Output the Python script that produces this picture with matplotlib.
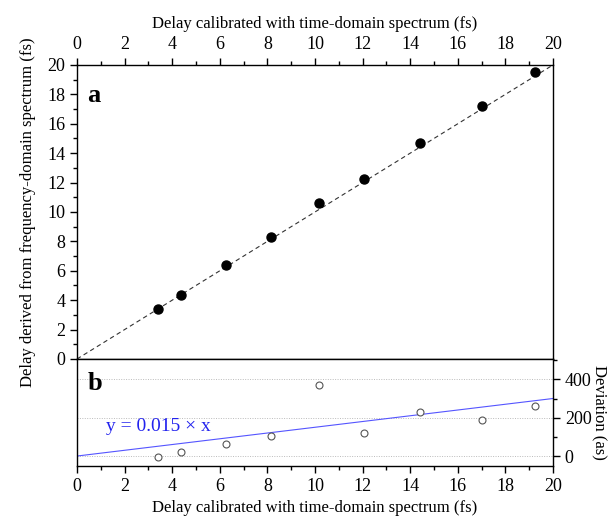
import matplotlib.pyplot as plt
from matplotlib.ticker import MultipleLocator

plt.rcParams['font.family'] = ['Liberation Serif', 'DejaVu Serif']
plt.rcParams['font.size'] = 12

# delay from time-domain spectrum (fs)
t_delay = [3.40, 4.35, 6.28, 8.15, 10.18, 12.06, 14.42, 17.00, 19.26]
# delay from frequency-domain spectrum (fs)
f_delay = [3.38, 4.33, 6.37, 8.28, 10.59, 12.22, 14.67, 17.23, 19.54]
# deviation (as)
deviation = [-3, 20, 62, 103, 368, 122, 229, 190, 260]
dev_err = [14, 14, 14, 14, 14, 14, 14, 14, 14]

ideal_x = [0, 20]
ideal_y = [0, 20]
fit_x = [0, 20]
fit_y = [0, 300]

fig = plt.figure(figsize=(6.14, 5.19), dpi=100)
ax1 = fig.add_axes([0.1254, 0.3083, 0.7752, 0.5665])
ax2 = fig.add_axes([0.1254, 0.1021, 0.7752, 0.2062])

# panel a
ax1.plot(ideal_x, ideal_y, ls=(0, (4, 3)), color='#333333', lw=0.8)
ax1.plot(t_delay, f_delay, 'o', color='black', ms=6.5)
ax1.set_xlim(0, 20)
ax1.set_ylim(0, 20)
ax1.xaxis.tick_top()
ax1.xaxis.set_label_position('top')
ax1.set_xlabel('Delay calibrated with time-domain spectrum (fs)', labelpad=6)
ax1.set_ylabel('Delay derived from frequency-domain spectrum (fs)', labelpad=8)
ax1.xaxis.set_major_locator(MultipleLocator(2))
ax1.xaxis.set_minor_locator(MultipleLocator(1))
ax1.yaxis.set_major_locator(MultipleLocator(2))
ax1.yaxis.set_minor_locator(MultipleLocator(1))
ax1.tick_params(which='both', direction='out', top=True, bottom=False, left=True, right=False,
                labelsize=13)
ax1.tick_params(which='major', length=5, width=1)
ax1.tick_params(which='minor', length=3, width=1)
ax1.text(0.022, 0.935, 'a', transform=ax1.transAxes, fontsize=19, fontweight='bold', va='top')

# panel b
ax2.yaxis.tick_right()
ax2.yaxis.set_label_position('right')
for v in [0, 200, 400]:
    ax2.axhline(v, color='#bbbbbb', lw=0.7, ls=(0, (1, 1.5)), zorder=0)
ax2.plot(fit_x, fit_y, color='#5555ff', lw=0.8)
ax2.errorbar(t_delay, deviation, yerr=dev_err, fmt='o', mfc='white', mec='#555555',
             ecolor='#555555', elinewidth=0.7, capsize=0, ms=5, mew=0.8)
ax2.set_xlim(0, 20)
ax2.set_ylim(-52, 506)
ax2.xaxis.set_major_locator(MultipleLocator(2))
ax2.xaxis.set_minor_locator(MultipleLocator(1))
ax2.yaxis.set_major_locator(MultipleLocator(200))
ax2.yaxis.set_minor_locator(MultipleLocator(100))
ax2.tick_params(which='both', direction='out', left=False, right=True, top=False, bottom=True,
                labelsize=13)
ax2.tick_params(which='major', length=5, width=1)
ax2.tick_params(which='minor', length=3, width=1)
ax2.set_xlabel('Delay calibrated with time-domain spectrum (fs)', labelpad=4)
ax2.set_ylabel('Deviation (as)', rotation=-90, labelpad=11)
ax2.text(0.022, 0.88, 'b', transform=ax2.transAxes, fontsize=19, fontweight='bold', va='top')
ax2.text(1.2, 130, 'y = 0.015 × x', color='#2222ee', fontsize=14)

for ax in (ax1, ax2):
    for s in ax.spines.values():
        s.set_linewidth(1.0)

fig.savefig('out.png', dpi=100)
